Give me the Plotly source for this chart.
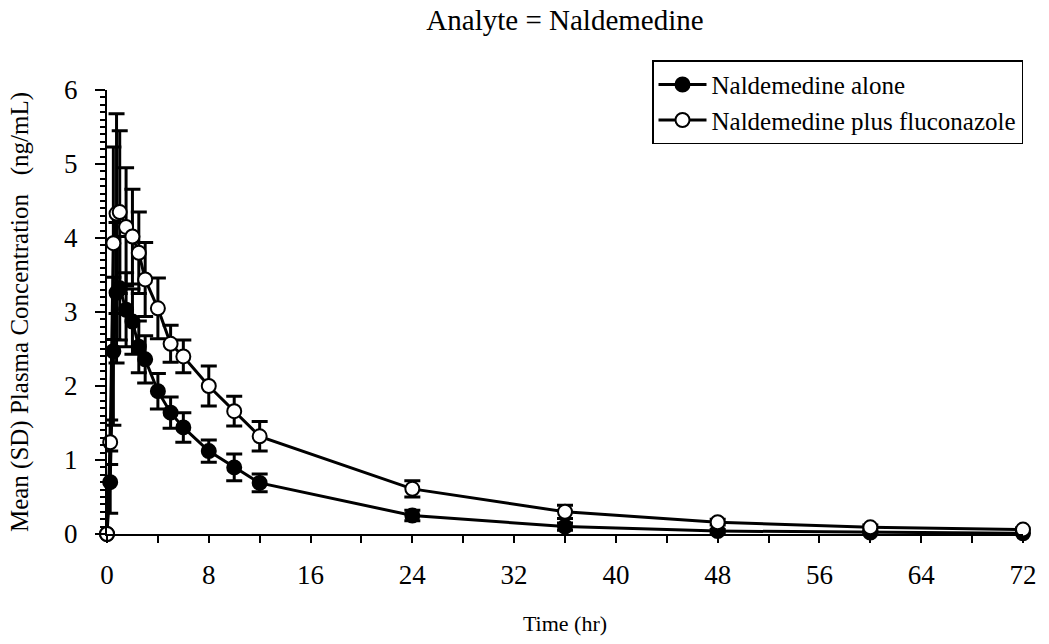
import plotly.graph_objects as go

time_hr = [0, 0.25, 0.5, 0.75, 1, 1.5, 2, 2.5, 3, 4, 5, 6, 8, 10, 12, 24, 36, 48, 60, 72]

alone_mean = [0, 0.70, 2.47, 3.26, 3.32, 3.03, 2.87, 2.53, 2.36, 1.93, 1.64, 1.44, 1.12, 0.90, 0.69, 0.25, 0.10, 0.04, 0.02, 0.01]
alone_sd = [0, 0.42, 1.00, 0.95, 0.70, 0.50, 0.44, 0.35, 0.32, 0.24, 0.21, 0.20, 0.15, 0.18, 0.12, 0.07, 0.05, 0.02, 0.01, 0.01]

flu_mean = [0, 1.24, 3.93, 4.33, 4.35, 4.15, 4.02, 3.80, 3.44, 3.05, 2.57, 2.40, 2.00, 1.66, 1.32, 0.61, 0.30, 0.16, 0.09, 0.06]
flu_sd = [0, 0.30, 1.30, 1.35, 1.10, 0.80, 0.64, 0.55, 0.50, 0.41, 0.25, 0.22, 0.27, 0.20, 0.20, 0.11, 0.09, 0.04, 0.03, 0.02]

series_names = ["Naldemedine alone", "Naldemedine plus fluconazole"]

FONT = "Liberation Serif"

fig = go.Figure()

fig.add_trace(go.Scatter(
    x=time_hr, y=alone_mean, name=series_names[0], mode="lines+markers",
    line=dict(color="black", width=3),
    marker=dict(symbol="circle", size=14, color="black", line=dict(color="black", width=2)),
    error_y=dict(type="data", array=alone_sd, visible=True, color="black", thickness=3, width=8),
    cliponaxis=False,
))
fig.add_trace(go.Scatter(
    x=time_hr, y=flu_mean, name=series_names[1], mode="lines+markers",
    line=dict(color="black", width=3),
    marker=dict(symbol="circle", size=14, color="white", line=dict(color="black", width=2)),
    error_y=dict(type="data", array=flu_sd, visible=True, color="black", thickness=3, width=8),
    cliponaxis=False,
))

fig.update_layout(
    width=1049, height=644,
    margin=dict(l=107, r=20, t=90, b=109),
    paper_bgcolor="white", plot_bgcolor="white",
    font=dict(family=FONT, color="black", size=20),
    title=dict(text="Analyte = Naldemedine", x=0.5, xref="paper", xanchor="center", y=0.969, yanchor="middle",
               font=dict(family=FONT, size=29, color="black")),
    showlegend=True,
    legend=dict(
        x=1.0, xanchor="right", y=1.067, yanchor="top",
        bgcolor="white", bordercolor="black", borderwidth=1.5,
        font=dict(family=FONT, size=25, color="black"),
        itemwidth=48, tracegroupgap=0,
    ),
)

fig.update_xaxes(
    range=[0, 72], tickmode="linear", tick0=0, dtick=8,
    showgrid=False, zeroline=False, showline=True, linecolor="black", linewidth=2,
    ticks="outside", ticklen=7, tickwidth=2, tickcolor="black",
    tickfont=dict(family=FONT, size=27, color="black"), ticklabelstandoff=9,
    minor=dict(dtick=4, tick0=0, ticks="outside", ticklen=7, tickwidth=2, tickcolor="black", showgrid=False),
    title=dict(text="Time (hr)", font=dict(family=FONT, size=22, color="black"), standoff=26),
)
fig.update_yaxes(
    range=[0, 6], tickmode="linear", tick0=0, dtick=1,
    showgrid=False, zeroline=False, showline=True, linecolor="black", linewidth=2,
    ticks="outside", ticklen=10, tickwidth=2, tickcolor="black",
    tickfont=dict(family=FONT, size=27, color="black"), ticklabelstandoff=12,
    minor=dict(dtick=0.1, tick0=0, ticks="outside", ticklen=5, tickwidth=2, tickcolor="black", showgrid=False),
    title=dict(text="Mean (SD) Plasma Concentration   (ng/mL)", font=dict(family=FONT, size=25, color="black"), standoff=28),
)

fig.write_html("out.html", post_script="document.body.style.margin='0';",
               config={"displayModeBar": False})
